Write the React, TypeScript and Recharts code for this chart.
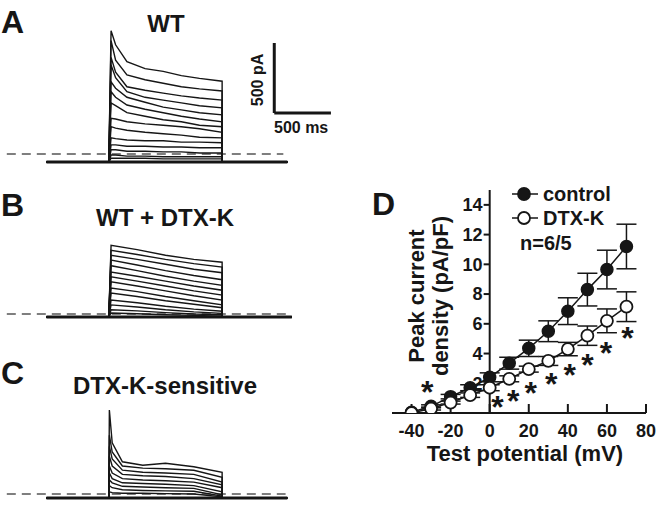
import React from "react";
import {
  LineChart,
  ComposedChart,
  Line,
  XAxis,
  YAxis,
  ReferenceLine,
  ErrorBar,
  Legend,
} from "recharts";

const FONT = '"Liberation Sans", Arial, Helvetica, sans-serif';
const INK = "#161616";

// ---- panels A-C: current sweeps (time in ms, current in pA) ----
const stepEnd = 1000;
const holdStart = -550;

const sweepTimesA = [20, 60, 160, 320, 480, 640, 800, 1000];
const sweepsA = [
  [880, 780, 660, 610, 590, 560, 540, 520],
  [810, 670, 565, 530, 505, 480, 465, 450],
  [690, 585, 480, 455, 435, 415, 400, 385],
  [635, 545, 445, 405, 385, 365, 345, 330],
  [515, 470, 405, 370, 335, 315, 295, 280],
  [445, 405, 350, 320, 295, 270, 250, 230],
  [365, 345, 295, 270, 245, 230, 205, 195],
  [255, 250, 230, 215, 205, 195, 180, 155],
  [195, 185, 170, 155, 145, 135, 120, 115],
  [115, 110, 100, 95, 95, 85, 85, 80],
  [65, 65, 55, 55, 50, 50, 45, 45],
  [30, 30, 20, 20, 15, 15, 7, 7],
  [-7, -7, -15, -15, -20, -20, -20, -20],
  [-30, -30, -30, -30, -35, -35, -35, -35],
];
const holdA = -57;

const sweepTimesB = [20, 250, 500, 750, 1000];
const sweepsB = [
  [490, 460, 420, 390, 370],
  [455, 425, 390, 360, 335],
  [420, 390, 355, 320, 295],
  [385, 350, 310, 275, 245],
  [345, 310, 270, 235, 205],
  [300, 270, 235, 200, 170],
  [265, 235, 200, 165, 135],
  [230, 200, 165, 130, 100],
  [185, 160, 125, 95, 65],
  [150, 125, 95, 70, 45],
  [100, 80, 55, 35, 20],
  [65, 50, 30, 15, 5],
  [30, 22, 10, 0, -5],
  [7, 2, -5, -10, -15],
];
const holdB = -21;

const sweepTimesC = [5, 30, 120, 300, 500, 750, 1000];
const sweepsC = [
  [600, 365, 230, 205, 220, 195, 155],
  [420, 300, 200, 185, 180, 170, 120],
  [340, 250, 170, 155, 150, 140, 85],
  [270, 200, 140, 130, 125, 110, 65],
  [200, 150, 110, 100, 95, 85, 45],
  [150, 110, 80, 75, 70, 60, 15],
  [100, 80, 55, 50, 45, 40, -5],
  [60, 45, 30, 25, 22, 20, -15],
  [15, 10, 5, 5, 3, 0, -20],
];
const holdC = -29;

// scale bar: 500 pA / 500 ms
const barT = 1460;
const barPA = 293;
const barSize = 500;

// ---- panel D: I-V relation ----
const testMV = [-40, -30, -20, -10, 0, 10, 20, 30, 40, 50, 60, 70];
const controlMean = [0.05, 0.45, 1.1, 1.7, 2.4, 3.35, 4.35, 5.5, 6.85, 8.3, 9.65, 11.2];
const controlSem = [0, 0.1, 0.15, 0.2, 0.3, 0.4, 0.55, 0.7, 0.9, 1.1, 1.3, 1.5];
const dtxMean = [0, 0.3, 0.7, 1.2, 1.7, 2.3, 2.95, 3.5, 4.3, 5.2, 6.2, 7.15];
const dtxSem = [0, 0.1, 0.1, 0.15, 0.2, 0.2, 0.2, 0.3, 0.45, 0.65, 0.8, 1.0];
const sigMV = [-32, 4, 12, 21, 31.5, 41, 50, 59.5, 70.5];
const sigLevel = [1.85, 0.87, 1.28, 1.82, 2.42, 3.03, 3.7, 4.5, 5.5];
const xTicks = [-40, -20, 0, 20, 40, 60, 80];
const yTicks = [2, 4, 6, 8, 10, 12, 14];
const seriesNames = ["control", "DTX-K"];
const seriesFills = [INK, "#ffffff"];

const ivRows = testMV.map((v, i) => ({
  mV: v,
  ctrl: controlMean[i],
  ctrlErr: controlSem[i],
  dtx: dtxMean[i],
  dtxErr: dtxSem[i],
}));
const sigRows = sigMV.map((v, i) => ({ mV: v, val: sigLevel[i] }));

const buildSweep = (times: number[], vals: number[], hold: number, end: number) => [
  { t: holdStart, v: hold },
  { t: 0, v: hold },
  ...times.map((t, i) => ({ t, v: vals[i] })),
  { t: stepEnd, v: hold },
  { t: end, v: hold },
];

interface PanelProps {
  top: number;
  times: number[];
  sweeps: number[][];
  hold: number;
  end: number;
  dashTo: number;
  scaleBar?: boolean;
}

const SweepPanel = ({ top, times, sweeps, hold, end, dashTo, scaleBar }: PanelProps) => (
  <div style={{ position: "absolute", left: 0, top }}>
    <LineChart width={340} height={154} margin={{ top: 0, right: 0, bottom: 0, left: 0 }}>
      <XAxis hide type="number" dataKey="t" domain={[-960, 2040]} allowDataOverflow />
      <YAxis hide type="number" domain={[-150, 950]} allowDataOverflow />
      <ReferenceLine
        segment={[{ x: -900, y: 0 }, { x: dashTo, y: 0 }]}
        stroke="#555"
        strokeWidth={1.3}
        strokeDasharray="9 6"
      />
      <Line
        data={[{ t: holdStart, v: hold }, { t: end, v: hold }]}
        dataKey="v"
        stroke={INK}
        strokeWidth={3}
        dot={false}
        activeDot={false}
        isAnimationActive={false}
      />
      {sweeps.map((vals, i) => (
        <Line
          key={i}
          data={buildSweep(times, vals, hold, end)}
          dataKey="v"
          stroke={INK}
          strokeWidth={1.4}
          dot={false}
          activeDot={false}
          isAnimationActive={false}
        />
      ))}
      {scaleBar && (
        <ReferenceLine
          segment={[{ x: barT, y: barPA }, { x: barT, y: barPA + barSize }]}
          stroke={INK}
          strokeWidth={3}
        />
      )}
      {scaleBar && (
        <ReferenceLine
          segment={[{ x: barT, y: barPA }, { x: barT + barSize, y: barPA }]}
          stroke={INK}
          strokeWidth={3}
        />
      )}
    </LineChart>
  </div>
);

const Star = (props: any) => {
  const { cx, cy, index } = props;
  if (cx == null || cy == null) return <g key={`s${index}`} />;
  return (
    <text
      key={`s${index}`}
      x={cx}
      y={cy + 18}
      textAnchor="middle"
      fontSize={32}
      fontWeight={700}
      fill={INK}
    >
      *
    </text>
  );
};

const LegendBox = (props: any) => {
  const items = (props.payload || [])
    .filter((p: any) => seriesNames.includes(p.value))
    .sort((a: any, b: any) => seriesNames.indexOf(a.value) - seriesNames.indexOf(b.value));
  return (
    <div style={{ fontFamily: FONT, fontWeight: 700, fontSize: 20, color: INK }}>
      {items.map((p: any) => (
        <div key={p.value} style={{ display: "flex", alignItems: "center", height: 24 }}>
          <svg width={26} height={24}>
            <line x1={0} y1={12} x2={26} y2={12} stroke={INK} strokeWidth={1.5} />
            <circle
              cx={12}
              cy={12}
              r={6}
              fill={seriesFills[seriesNames.indexOf(p.value)]}
              stroke={INK}
              strokeWidth={1.8}
            />
          </svg>
          <span style={{ marginLeft: 5, lineHeight: "24px" }}>{p.value}</span>
        </div>
      ))}
      <div style={{ height: 26, lineHeight: "26px", paddingLeft: 8 }}>n=6/5</div>
    </div>
  );
};

const text = (s: React.CSSProperties): React.CSSProperties => ({
  position: "absolute",
  fontWeight: 700,
  color: INK,
  whiteSpace: "nowrap",
  ...s,
});

export default function App() {
  return (
    <div
      style={{
        position: "absolute",
        left: 0,
        top: 0,
        width: 657,
        height: 508,
        background: "#fff",
        overflow: "hidden",
        fontFamily: FONT,
      }}
    >
      <SweepPanel top={21} times={sweepTimesA} sweeps={sweepsA} hold={holdA} end={1575} dashTo={1540} scaleBar />
      <SweepPanel top={181} times={sweepTimesB} sweeps={sweepsB} hold={holdB} end={1615} dashTo={1600} />
      <SweepPanel top={361} times={sweepTimesC} sweeps={sweepsC} hold={holdC} end={1575} dashTo={1560} />

      <div style={text({ left: 1, top: 6, fontSize: 32, lineHeight: "32px" })}>A</div>
      <div style={text({ left: 66, width: 200, textAlign: "center", top: 12, fontSize: 24, lineHeight: "24px" })}>WT</div>
      <div
        style={text({
          left: 218,
          top: 72,
          width: 80,
          height: 16,
          textAlign: "center",
          fontSize: 16,
          lineHeight: "16px",
          transform: "rotate(-90deg)",
        })}
      >
        500 pA
      </div>
      <div style={text({ left: 274, top: 120, fontSize: 16, lineHeight: "16px" })}>500 ms</div>

      <div style={text({ left: 1, top: 189, fontSize: 32, lineHeight: "32px" })}>B</div>
      <div style={text({ left: 65, width: 200, textAlign: "center", top: 206, fontSize: 24, lineHeight: "24px" })}>
        WT + DTX-K
      </div>

      <div style={text({ left: 1, top: 357, fontSize: 32, lineHeight: "32px" })}>C</div>
      <div style={text({ left: 65, width: 200, textAlign: "center", top: 374, fontSize: 24, lineHeight: "24px" })}>
        DTX-K-sensitive
      </div>

      <div style={text({ left: 372, top: 188, fontSize: 32, lineHeight: "32px" })}>D</div>

      <div style={{ position: "absolute", left: 330, top: 170 }}>
        <ComposedChart
          width={327}
          height={338}
          data={ivRows}
          margin={{ top: 20, right: 11, bottom: 65, left: 62 }}
        >
          <XAxis
            type="number"
            dataKey="mV"
            domain={[-50, 80]}
            ticks={xTicks}
            interval={0}
            allowDataOverflow
            height={30}
            axisLine={{ stroke: INK, strokeWidth: 2 }}
            tickLine={{ stroke: INK, strokeWidth: 2 }}
            tickSize={-9}
            tickMargin={20}
            tick={{ fontSize: 18, fontWeight: 700, fill: INK }}
          />
          <YAxis hide type="number" dataKey="val" domain={[0, 15]} allowDataOverflow />
          <ReferenceLine segment={[{ x: 0, y: 0 }, { x: 0, y: 15 }]} stroke={INK} strokeWidth={2} />
          {yTicks.map((v) => (
            <ReferenceLine
              key={v}
              segment={[{ x: -3.1, y: v }, { x: 0, y: v }]}
              stroke={INK}
              strokeWidth={2}
              label={{ value: String(v), position: "left", offset: 1, fontSize: 18, fontWeight: 700, fill: INK }}
            />
          ))}
          <Line
            name="control"
            dataKey="ctrl"
            type="linear"
            stroke={INK}
            strokeWidth={1.5}
            dot={{ r: 6, fill: INK, stroke: INK, strokeWidth: 1.5 }}
            activeDot={false}
            isAnimationActive={false}
          >
            <ErrorBar dataKey="ctrlErr" width={10} stroke={INK} strokeWidth={1.5} direction="y" />
          </Line>
          <Line
            name="DTX-K"
            dataKey="dtx"
            type="linear"
            stroke={INK}
            strokeWidth={1.5}
            dot={{ r: 6, fill: "#fff", stroke: INK, strokeWidth: 1.8 }}
            activeDot={false}
            isAnimationActive={false}
          >
            <ErrorBar dataKey="dtxErr" width={10} stroke={INK} strokeWidth={1.5} direction="y" />
          </Line>
          <Line
            name="sig"
            data={sigRows}
            dataKey="val"
            stroke="none"
            legendType="none"
            dot={Star}
            activeDot={false}
            isAnimationActive={false}
          />
          <Legend
            layout="vertical"
            align="center"
            verticalAlign="middle"
            content={LegendBox}
            wrapperStyle={{ left: 182, top: 12, width: 140 }}
          />
        </ComposedChart>
      </div>

      <div
        style={text({
          left: 339,
          top: 272,
          width: 180,
          height: 48,
          textAlign: "center",
          fontSize: 22,
          lineHeight: "24px",
          transform: "rotate(-90deg)",
        })}
      >
        Peak current
        <br />
        density (pA/pF)
      </div>
      <div style={text({ left: 375, width: 300, textAlign: "center", top: 443, fontSize: 22, lineHeight: "22px" })}>
        Test potential (mV)
      </div>
    </div>
  );
}
